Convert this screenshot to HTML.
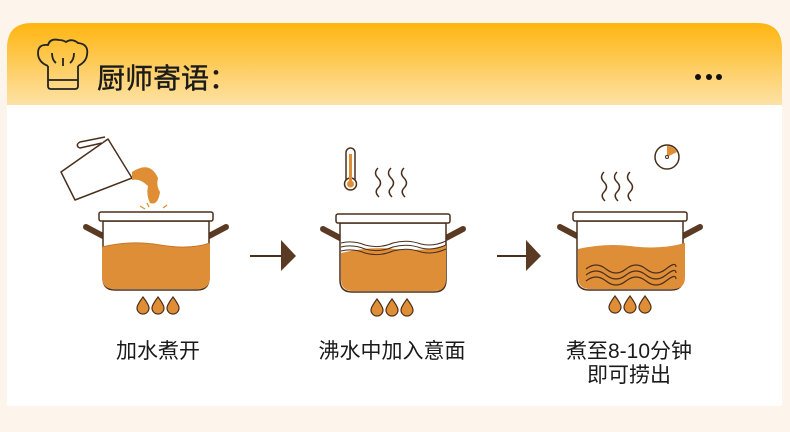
<!DOCTYPE html>
<html><head><meta charset="utf-8"><style>
html,body{margin:0;padding:0;background:#fdf5ec;}
body{width:790px;height:427px;overflow:hidden;position:relative;font-family:"Liberation Sans","Noto Sans CJK SC",sans-serif;}
</style></head><body>
<svg width="790" height="427" viewBox="0 0 790 427" xmlns="http://www.w3.org/2000/svg">
<defs>
<linearGradient id="hg" x1="0" y1="0" x2="0" y2="1">
<stop offset="0" stop-color="#ffb510"/><stop offset="1" stop-color="#fde2a6"/>
</linearGradient>
<g id="pot">
<path d="M-70,15 L-53,24" stroke="#5a3a22" stroke-width="6" stroke-linecap="round"/>
<path d="M70,15 L53,24" stroke="#5a3a22" stroke-width="6" stroke-linecap="round"/>
<path d="M-53,9 L-53,66 Q-53,78 -41,78 L41,78 Q53,78 53,66 L53,9 Z" fill="#fff" stroke="#4a2e1c" stroke-width="1.5"/>
<rect x="-57" y="0" width="114" height="9" rx="2" fill="#fff" stroke="#4a2e1c" stroke-width="1.5"/>
</g>
<g id="flames" fill="#df8e35" stroke="#4a2e1c" stroke-width="1.2">
<path d="M-15,0 Q-21,8 -21,11 A6,6 0 0 0 -9,11 Q-9,8 -15,0Z"/>
<path d="M0,0 Q-6,8 -6,11 A6,6 0 0 0 6,11 Q6,8 0,0Z"/>
<path d="M15,0 Q9,8 9,11 A6,6 0 0 0 21,11 Q21,8 15,0Z"/>
</g>
<g id="steam" fill="none" stroke="#4a2e1c" stroke-width="1.5">
<path d="M0,0 q-5,5 0,10 q5,5 0,10 q-4,4 1,9"/>
<path d="M13,0 q-5,5 0,10 q5,5 0,10 q-4,4 1,9"/>
<path d="M26,0 q-5,5 0,10 q5,5 0,10 q-4,4 1,9"/>
</g>
</defs>
<path d="M7,406 L7,48 Q7,23 32,23 L757,23 Q782,23 782,48 L782,406 Z" fill="#fff"/>
<path d="M7,105 L7,48 Q7,23 32,23 L757,23 Q782,23 782,48 L782,105 Z" fill="url(#hg)"/>
<!-- chef hat -->
<g fill="none" stroke="#222" stroke-width="1.8">
<path d="M48,66 L48,86 Q48,89 51,89 L75,89 Q78,89 78,86 L78,66"/>
<path d="M48,80 L78,80"/>
<path d="M48,66 Q38,62 38,53 Q38,44 48,45 Q50,38 59,40 Q63,40 66,42 Q72,38 78,43 Q89,44 87,55 Q86,62 78,66"/>
<path d="M63,58 L63,66"/>
<path d="M52,53 Q52,60 56,63"/><path d="M74,53 Q74,60 70,63"/>
</g>
<text x="97" y="88" font-size="28" fill="#1a1a1a" stroke="#1a1a1a" stroke-width="0.4">厨师寄语：</text>
<circle cx="698" cy="77" r="3" fill="#111"/><circle cx="709" cy="77" r="3" fill="#111"/><circle cx="719" cy="77" r="3" fill="#111"/>

<!-- pot 1 jug -->
<path d="M61,172 L75,200 L132,178 L108,139 Z" fill="#fff" stroke="#4a2e1c" stroke-width="1.5" stroke-linejoin="round"/>
<path d="M105,137 L80,142 Q76,144 78,147 L80,148 L102,143" fill="#fff" stroke="#4a2e1c" stroke-width="1.5" stroke-linejoin="round"/>
<path d="M132,172 Q150,160 158,178 Q156,186 160,192 Q158,206 150,203 Q146,195 148,186 Q140,178 132,180Z" fill="#df8e35"/>
<g stroke="#df8e35" stroke-width="1.3"><path d="M140,206 l5,3"/><path d="M147,203 l2,4"/><path d="M163,208 l4,-3"/></g>
<use href="#pot" transform="translate(156,212)"/>
<path d="M102,247 Q130,240 160,245 Q190,250 210,243 L210,277 Q210,289 198,289 L114,289 Q102,289 102,277Z" fill="#df8e38"/>
<path d="M102,247 Q130,240 160,245 Q190,250 210,243" fill="none" stroke="#c9772a" stroke-width="1"/>
<use href="#flames" transform="translate(158,297)"/>

<!-- arrow 1 -->
<path d="M250,256 L282,256" stroke="#4a2e1c" stroke-width="2"/>
<path d="M281,240 L296,256 L281,271Z" fill="#5a3a22"/>

<!-- pot 2 -->
<rect x="346" y="148" width="9" height="36" rx="4.5" fill="#fff" stroke="#4a2e1c" stroke-width="1.5"/>
<circle cx="350.5" cy="184" r="6" fill="#fff" stroke="#4a2e1c" stroke-width="1.5"/>
<rect x="349" y="154" width="3" height="28" fill="#df8e35"/><circle cx="350.5" cy="184" r="3.5" fill="#df8e35"/>
<use href="#steam" transform="translate(378,168)"/>
<use href="#pot" transform="translate(393,214)"/>
<path d="M341,253 Q370,246 395,249 Q425,252 446,245 L446,279 Q446,291 434,291 L353,291 Q341,291 341,279Z" fill="#df8e38"/>
<g fill="none" stroke="#4a2e1c" stroke-width="1">
<path d="M341,243 q12,-3 24,2 q14,4 28,-2 q14,-4 28,1 q12,3 25,-3"/>
<path d="M341,247 q12,-3 24,2 q14,4 28,-2 q14,-4 28,1 q12,3 25,-3"/>
<path d="M341,251 q12,-3 24,2 q14,4 28,-2 q14,-4 28,1 q12,3 25,-3"/>
</g>
<use href="#flames" transform="translate(392,299)"/>

<!-- arrow 2 -->
<path d="M497,256 L527,256" stroke="#4a2e1c" stroke-width="2"/>
<path d="M526,240 L541,256 L526,271Z" fill="#5a3a22"/>

<!-- pot 3 -->
<circle cx="667" cy="157" r="12" fill="#fff" stroke="#4a2e1c" stroke-width="1.5"/>
<path d="M667,157 L667,146 A11,11 0 0 1 677,152Z" fill="#df8e35"/>
<circle cx="667" cy="157" r="1.5" fill="#fff" stroke="#4a2e1c"/>
<use href="#steam" transform="translate(604,172)"/>
<use href="#pot" transform="translate(630,212)"/>
<path d="M578,249 Q605,243 630,246 Q660,250 685,243 L685,277 Q685,289 673,289 L590,289 Q578,289 578,277Z" fill="#df8e38"/>
<g fill="none" stroke="#4a2e1c" stroke-width="1.2">
<path d="M586,269 q10,-8 20,0 t20,0 t20,0 t20,0 t10,-2"/>
<path d="M586,275 q10,-8 20,0 t20,0 t20,0 t20,0 t10,-2"/>
<path d="M586,281 q10,-8 20,0 t20,0 t20,0 t20,0 t10,-2"/>
</g>
<use href="#flames" transform="translate(630,296)"/>

<g font-size="21" fill="#1a1a1a" text-anchor="middle">
<text x="158" y="358">加水煮开</text>
<text x="392" y="358">沸水中加入意面</text>
<text x="629" y="358">煮至8-10分钟</text>
<text x="629" y="382">即可捞出</text>
</g>
</svg>
</body></html>
